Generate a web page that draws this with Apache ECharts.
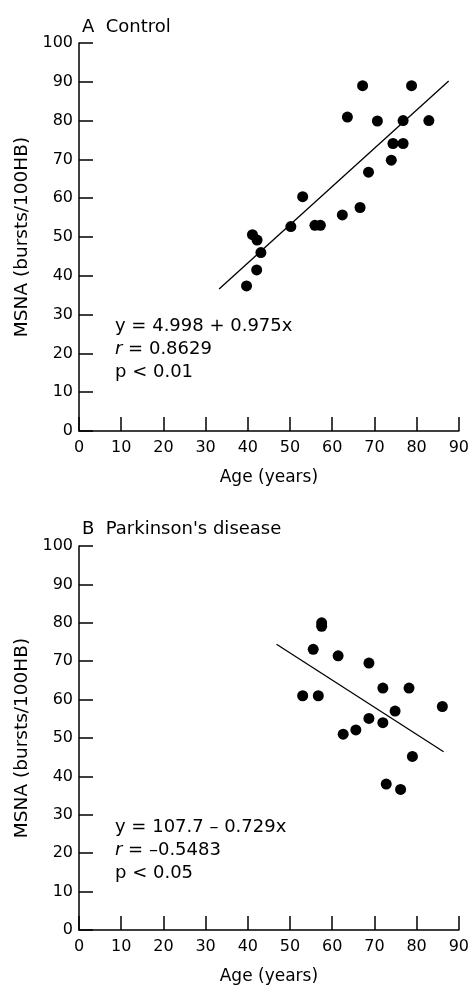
<!DOCTYPE html>
<html>
<head>
<meta charset="utf-8">
<script src="https://cdn.jsdelivr.net/npm/echarts@6/dist/echarts.min.js"></script>
<style>
  html, body { margin: 0; padding: 0; background: #fff; }
  #chart { width: 472px; height: 986px; }
</style>
</head>
<body>
<div id="chart"></div>
<script>
// Panel A: controls, age vs MSNA
const controlPoints = [
  [39.7, 37.4], [41.1, 50.6], [42.2, 49.2], [42.1, 41.5], [43.1, 46.0],
  [50.2, 52.7], [53.0, 60.4], [55.9, 53.0], [57.2, 53.0], [62.4, 55.7],
  [63.6, 80.9], [66.6, 57.6], [67.2, 89.0], [68.6, 66.7], [70.7, 79.9],
  [74.0, 69.8], [74.4, 74.1], [76.8, 74.1], [76.8, 80.0], [78.8, 89.0],
  [82.9, 80.0]
];
const controlFit = [[33.2, 36.6], [87.6, 90.2]];

// Panel B: Parkinson's disease
const pdPoints = [
  [53.0, 61.0], [55.5, 73.1], [56.7, 61.0], [57.5, 80.0], [57.5, 79.1],
  [61.4, 71.4], [62.6, 51.0], [65.6, 52.1], [68.7, 69.5], [68.7, 55.1],
  [72.0, 63.0], [72.0, 54.0], [72.8, 38.0], [74.9, 57.0], [76.2, 36.6],
  [78.2, 63.0], [79.0, 45.2], [86.1, 58.2]
];
const pdFit = [[46.8, 74.4], [86.4, 46.4]];

const panelTitles = ['A  Control', "B  Parkinson's disease"];
const statsA = ['y = 4.998 + 0.975x', '{i|r} = 0.8629', 'p < 0.01'];
const statsB = ['y = 107.7 \u2013 0.729x', '{i|r} = \u20130.5483', 'p < 0.05'];

const FONT = '"DejaVu Sans", sans-serif';
const chart = echarts.init(document.getElementById('chart'));

const gridA = { left: 79, right: 13, top: 43, height: 388 };
const gridB = { left: 79, right: 13, top: 546, height: 388 };

function xAx(i) {
  return {
    gridIndex: i, type: 'value', min: 0, max: 90, interval: 10,
    name: 'Age (years)', nameLocation: 'middle', nameGap: 38,
    nameTextStyle: { color: '#000', fontSize: 17, fontFamily: FONT },
    axisLine: { show: true, lineStyle: { color: '#000', width: 1.5 } },
    axisTick: { show: true, inside: true, length: 14, lineStyle: { color: '#000', width: 1.5 } },
    axisLabel: { color: '#000', fontSize: 16, fontFamily: FONT, margin: 9 },
    splitLine: { show: false }
  };
}
function yAx(i) {
  return {
    gridIndex: i, type: 'value', min: 0, max: 100, interval: 10,
    name: 'MSNA (bursts/100HB)', nameLocation: 'middle', nameGap: 47, nameRotate: 90,
    nameTextStyle: { color: '#000', fontSize: 18.5, fontFamily: FONT },
    axisLine: { show: true, lineStyle: { color: '#000', width: 1.5 } },
    axisTick: { show: true, inside: true, length: 14, lineStyle: { color: '#000', width: 1.5 } },
    axisLabel: { color: '#000', fontSize: 16, fontFamily: FONT, margin: 6 },
    splitLine: { show: false }
  };
}
function dots(i, data) {
  return {
    type: 'scatter', xAxisIndex: i, yAxisIndex: i, data: data,
    symbol: 'circle', symbolSize: 11, itemStyle: { color: '#000', opacity: 1 }, silent: true
  };
}
function fit(i, data) {
  return {
    type: 'line', xAxisIndex: i, yAxisIndex: i, data: data,
    symbol: 'none', lineStyle: { color: '#000', width: 1.3 }, silent: true
  };
}
function statsText(lines, top) {
  return {
    type: 'text', left: 115, top: top,
    style: {
      text: lines.join('\n'), fill: '#000', font: '18px ' + FONT, lineHeight: 23,
      rich: { i: { fontStyle: 'italic', fontSize: 18, fontFamily: FONT, fill: '#000' } }
    }
  };
}

chart.setOption({
  animation: false,
  backgroundColor: '#fff',
  title: [
    { text: panelTitles[0], left: 77, top: 13, textStyle: { color: '#000', fontSize: 18, fontWeight: 'normal', fontFamily: FONT } },
    { text: panelTitles[1], left: 77, top: 515, textStyle: { color: '#000', fontSize: 18, fontWeight: 'normal', fontFamily: FONT } }
  ],
  grid: [gridA, gridB],
  xAxis: [xAx(0), xAx(1)],
  yAxis: [yAx(0), yAx(1)],
  series: [dots(0, controlPoints), fit(0, controlFit), dots(1, pdPoints), fit(1, pdFit)],
  graphic: [statsText(statsA, 315), statsText(statsB, 816)]
});
</script>
</body>
</html>
